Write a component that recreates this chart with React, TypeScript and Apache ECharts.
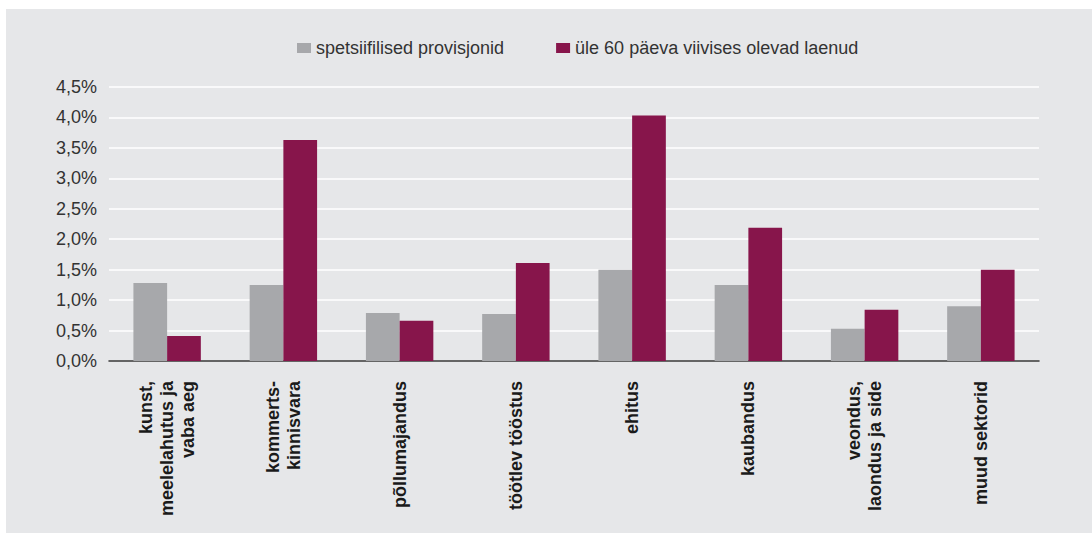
import React, { useEffect, useRef } from "react";
import * as echarts from "echarts";

const categories = [
  "kunst,\nmeelelahutus ja\nvaba aeg",
  "kommerts-\nkinnisvara",
  "põllumajandus",
  "töötlev tööstus",
  "ehitus",
  "kaubandus",
  "veondus,\nlaondus ja side",
  "muud sektorid",
];
const seriesNames = ["spetsiifilised provisjonid", "üle 60 päeva viivises olevad laenud"];
const provisions = [1.28, 1.25, 0.79, 0.77, 1.5, 1.25, 0.53, 0.9];
const overdue = [0.41, 3.63, 0.66, 1.61, 4.03, 2.19, 0.84, 1.5];

const FONT = "'Liberation Sans', Arial, Helvetica, sans-serif";

export default function App() {
  const ref = useRef<HTMLDivElement>(null);
  useEffect(() => {
    if (!ref.current) return;
    const chart = echarts.init(ref.current, undefined, { renderer: "svg" });
    chart.setOption({
      animation: false,
      textStyle: { fontFamily: FONT },
      legend: {
        left: 286,
        top: 25,
        itemWidth: 14,
        itemHeight: 10,
        itemGap: 52,
        icon: "rect",
        textStyle: { fontFamily: FONT, fontSize: 18, color: "#333" },
        data: seriesNames,
      },
      grid: { left: 103, right: 53, top: 78, bottom: 172 },
      xAxis: {
        type: "category",
        data: categories,
        axisLine: { show: true, lineStyle: { color: "#333", width: 1.5 } },
        axisTick: { show: false },
        axisLabel: {
          rotate: 90,
          interval: 0,
          margin: 20,
          fontFamily: FONT,
          fontSize: 18,
          fontWeight: "bold",
          color: "#1a1a1a",
          lineHeight: 21,
        },
      },
      yAxis: {
        type: "value",
        min: 0,
        max: 4.5,
        interval: 0.5,
        axisLine: { show: false },
        axisTick: { show: false },
        splitLine: { lineStyle: { color: "#ffffff", width: 1.5 } },
        axisLabel: {
          margin: 12,
          fontFamily: FONT,
          fontSize: 18,
          color: "#333",
          formatter: (v: number) => v.toFixed(1).replace(".", ",") + "%",
        },
      },
      series: [
        {
          name: seriesNames[0],
          type: "bar",
          data: provisions,
          itemStyle: { color: "#a7a8ab" },
          barGap: "0%",
          barCategoryGap: "42%",
        },
        {
          name: seriesNames[1],
          type: "bar",
          data: overdue,
          itemStyle: { color: "#87154b" },
          barGap: "0%",
          barCategoryGap: "42%",
        },
      ],
    });
    return () => chart.dispose();
  }, []);
  return (
    <div style={{ position: "absolute", left: 0, top: 0, width: 1092, height: 533, background: "#fff" }}>
      <div
        ref={ref}
        style={{ position: "absolute", left: 6, top: 9, width: 1086, height: 524, background: "#e6e7e9" }}
      />
    </div>
  );
}
